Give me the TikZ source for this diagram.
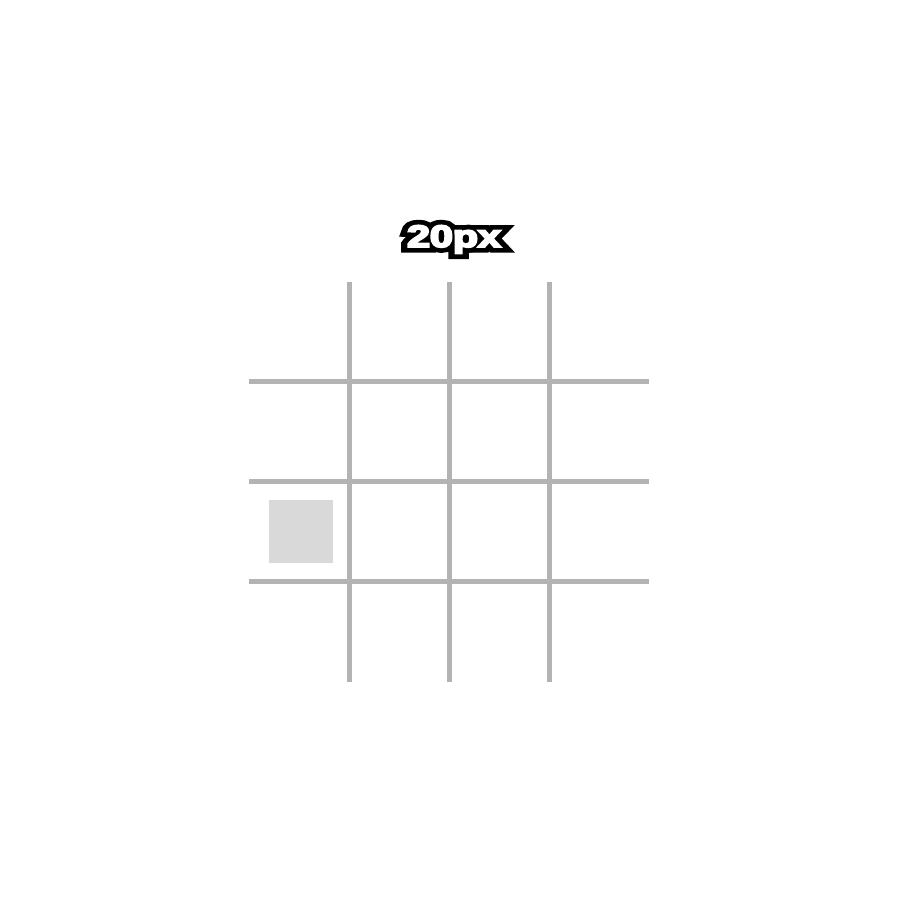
\documentclass[tikz,border=0pt]{standalone}
\usepackage{fontspec}
\setmainfont{Liberation Sans}
\usepackage{xcolor}
\definecolor{gridline}{HTML}{B3B3B3}
\definecolor{cellfill}{HTML}{D9D9D9}
\font\tagfont="Liberation Sans/B:embolden=6" at 8.8pt
\font\tagedge="Liberation Sans/B:embolden=36" at 8.8pt

\begin{document}
\begin{tikzpicture}[
    gridrule/.style={draw=gridline, line width=1.14pt},
    tag/.style={inner sep=0pt, anchor=base, xscale=1.33},
]
\useasboundingbox[fill=white] (0,0) rectangle (9,9);

% grid
\foreach \x in {3.495,4.495,5.495}
    \draw[gridrule] (\x,6.18) -- (\x,2.18);
\foreach \y in {5.185,4.185,3.185}
    \draw[gridrule] (2.49,\y) -- (6.49,\y);

% marked cell
\fill[cellfill] (2.69,3.37) rectangle (3.33,4.00);

% outlined label
\node[tag, text=black, font=\tagedge] (lbledge) at (4.54,6.53) {20px};
\node[tag, text=white, font=\tagfont] (lbl) at (4.54,6.53) {20px};

\end{tikzpicture}
\end{document}
